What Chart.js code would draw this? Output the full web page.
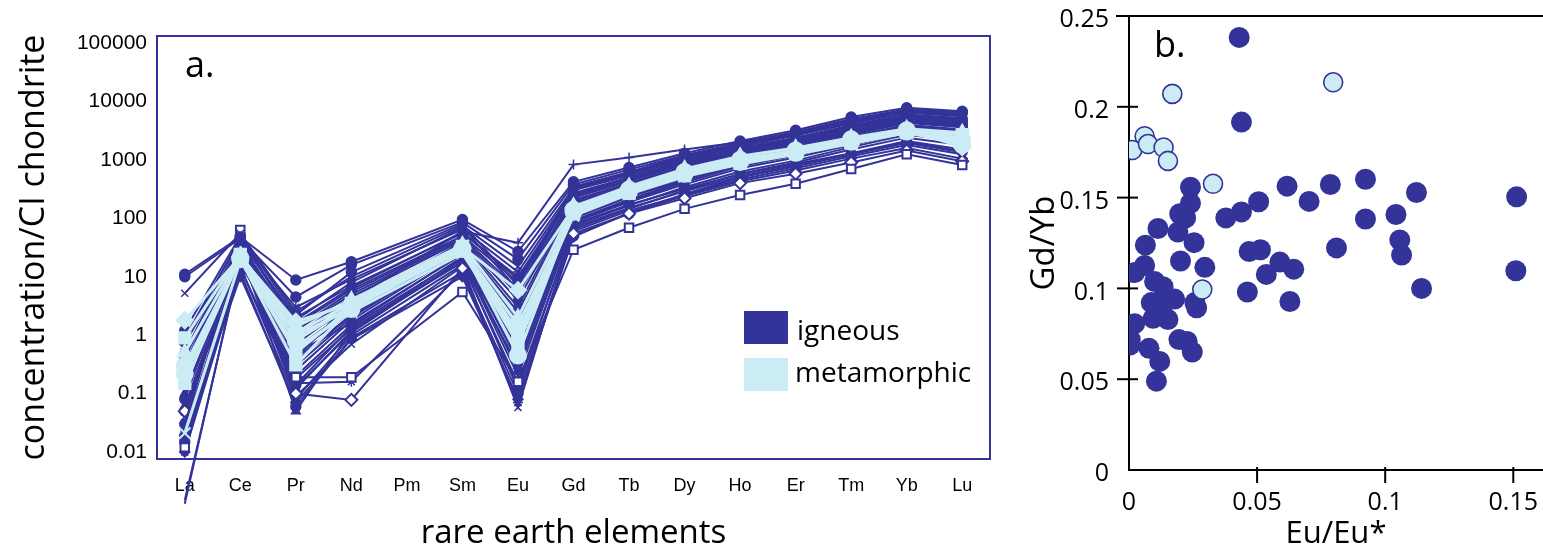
<!DOCTYPE html>
<html>
<head>
<meta charset="utf-8">
<script src="https://cdn.jsdelivr.net/npm/chart.js@4.4.0/dist/chart.umd.min.js"></script>
<style>
  body { margin: 0; background: #fff; }
  #wrap { position: relative; width: 1543px; height: 553px; }
  #ree { position: absolute; left: 0; top: 0; }
  #ratio { position: absolute; left: 1000px; top: 0; }
</style>
</head>
<body>
<div id="wrap">
  <canvas id="ree" width="1000" height="553"></canvas>
  <canvas id="ratio" width="543" height="553"></canvas>
</div>
<script>
// panel a: chondrite normalised REE patterns
const elements = ['La', 'Ce', 'Pr', 'Nd', 'Pm', 'Sm', 'Eu', 'Gd', 'Tb', 'Dy', 'Ho', 'Er', 'Tm', 'Yb', 'Lu'];
const reeTicks = [0.01, 0.1, 1, 10, 100, 1000, 10000, 100000];

// one row per igneous sample, Pm not measured
const igneousSamples = [
  [11, 48, 8.8, 18, null, 95, 27, 420, 740, 1300, 2100, 3200, 5400, 7800, 6800],
  [10, 45, 4.5, 16, null, 85, 20, 380, 680, 1200, 1950, 3000, 5000, 7300, 6400],
  [5.2, 55, 2.5, 10, null, 75, 15, 330, 600, 1100, 1800, 2800, 4600, 7000, 6000],
  [0.03, 40, 0.4, 4, null, 60, 38, 830, 1100, 1500, 2000, 2900, 4500, 6800, 5800],
  [0.012, 63, 0.19, 0.19, null, 5.5, 0.16, 29, 69, 145, 250, 390, 700, 1250, 820],
  [0.05, 30, 0.1, 0.078, null, 14, 0.8, 55, 120, 220, 400, 580, 900, 1450, 950],
  [0.06, 28, 0.05, 1.2, null, 18, 0.3, 80, 170, 320, 560, 850, 1300, 2100, 1500],
  [0.02, 22, 0.15, 0.16, null, 12, 0.07, 60, 135, 250, 460, 720, 1150, 1800, 1250],
  [0.15, 25, 0.09, 0.7, null, 15, 0.058, 70, 150, 290, 520, 800, 1250, 1950, 1350],
  [0.4, 35, 1.5, 6, null, 50, 8, 250, 480, 900, 1500, 2300, 3600, 5600, 4800],
  [0.012, 32, 0.8, 3, null, 40, 3, 200, 390, 760, 1300, 2000, 3300, 5100, 4400],
  [0.3, 38, 1.2, 5, null, 45, 5, 225, 430, 830, 1400, 2100, 3400, 5300, 4600],
  [0.5, 40, 2, 7, null, 55, 10, 270, 500, 950, 1600, 2400, 3900, 6000, 5200],
  [0.08, 30, 0.5, 2.5, null, 35, 2, 165, 340, 670, 1180, 1800, 2950, 4700, 4000],
  [0.2, 33, 0.7, 3.5, null, 38, 1.5, 185, 370, 720, 1250, 1900, 3100, 4900, 4200],
  [0.04, 28, 0.3, 2, null, 30, 0.9, 145, 310, 620, 1100, 1700, 2750, 4400, 3700],
  [0.1, 26, 0.25, 1.8, null, 28, 0.6, 125, 270, 550, 1000, 1550, 2500, 4000, 3300],
  [0.015, 24, 0.2, 1.5, null, 25, 0.4, 105, 240, 500, 900, 1400, 2300, 3700, 3000],
  [0.025, 22, 0.12, 1.2, null, 22, 0.25, 92, 210, 440, 820, 1250, 2100, 3400, 2700],
  [0.7, 36, 1, 4.5, null, 42, 4, 205, 400, 780, 1350, 2050, 3250, 5100, 4500],
  [0.0013, 20, 0.6, 2.8, null, 32, 1.2, 155, 320, 640, 1150, 1750, 2850, 4600, 3850],
  [0.0015, 18, 0.35, 2.2, null, 26, 0.7, 115, 250, 520, 950, 1450, 2400, 3800, 3150],
  [0.3, 42, 3, 9, null, 65, 12, 300, 540, 1000, 1700, 2600, 4200, 6400, 5600],
  [1.2, 50, 2.2, 12, null, 80, 7, 350, 620, 1150, 1900, 2900, 4800, 7200, 6500],
  [0.9, 45, 1.8, 8, null, 70, 6, 315, 580, 1050, 1750, 2700, 4400, 6700, 6200],
  [0.06, 15, 0.08, 1, null, 16, 0.15, 65, 145, 300, 580, 900, 1500, 2400, 1800],
  [0.03, 12, 0.06, 0.9, null, 12, 0.1, 50, 120, 260, 500, 780, 1250, 2000, 1400],
  [0.02, 10, 0.07, 0.85, null, 10, 0.08, 48, 125, 240, 430, 660, 1050, 1600, 1050],
  [0.01, 14, 0.13, 1.1, null, 20, 0.2, 85, 190, 380, 720, 1100, 1800, 2900, 2200],
  [0.013, 16, 0.5, 1.6, null, 24, 0.35, 100, 230, 460, 860, 1350, 2200, 3500, 2800],
  [0.25, 34, 0.9, 4, null, 36, 2.5, 175, 355, 700, 1220, 1850, 3000, 4800, 4100],
  [0.8, 44, 1.6, 6.5, null, 58, 9, 260, 490, 930, 1550, 2350, 3800, 5800, 5000],
  [0.05, 27, 0.4, 2.2, null, 33, 1.8, 135, 290, 580, 1050, 1650, 2650, 4300, 3600],
  [0.5, 37, 1.3, 5.5, null, 48, 6, 235, 450, 860, 1480, 2200, 3550, 5500, 4900],
  [0.01, 20, 0.18, 1.3, null, 18, 0.12, 75, 165, 340, 630, 970, 1650, 2700, 2100],
  [0.018, 26, 0.14, 1.4, null, 21, 0.5, 88, 200, 410, 780, 1200, 1950, 3200, 2500]
];
const igneousMarkers = ['circle', 'circle', 'crossRot', 'cross', 'rect', 'rectRot', 'triangle', 'star', 'crossRot',
  'circle', 'rect', 'triangle', 'rectRot', 'circle', 'rect', 'crossRot', 'triangle', 'circle', 'rect', 'rectRot',
  'circle', 'cross', 'star', 'circle', 'rect', 'triangle', 'circle', 'rectRot', 'crossRot', 'rect', 'circle',
  'triangle', 'circle', 'rect', 'rectRot', 'circle'];
const igneousOpen = [4, 5];   // hollow symbols

const metamorphicSamples = [
  [1.8, 22, 1.7, 3.5, null, 32, 5.9, 150, 330, 650, 1050, 1400, 2300, 3300, 1650],
  [0.9, 24, 1.1, 3.5, null, 33, 1.1, 135, 300, 600, 950, 1350, 2100, 3100, 2700],
  [0.25, 20, 0.31, 3, null, 28, 1.0, 125, 280, 560, 900, 1300, 2000, 3000, 2400],
  [0.22, 21, 1.0, 2.8, null, 30, 0.45, 140, 310, 620, 1000, 1450, 2250, 3200, 2100],
  [0.021, 19, 0.6, 2.5, null, 25, 0.9, 110, 260, 520, 850, 1250, 1900, 2900, 1900],
  [0.5, 23, 1.4, 4, null, 35, 2, 160, 350, 700, 1150, 1600, 2400, 3400, 2900],
  [0.3, 20, 0.8, 3.2, null, 30, 1.5, 130, 290, 580, 920, 1320, 2050, 3050, 1800],
  [0.15, 21, 0.5, 3, null, 29, 0.7, 120, 270, 540, 880, 1280, 1950, 2950, 2200]
];
const metamorphicMarkers = ['rectRot', 'rect', 'rect', 'circle', 'crossRot', 'triangle', 'circle', 'rect'];

// panel b: Gd/Yb against Eu/Eu*
const igneousEu = [0.043, 0.0439, 0.024, 0.024, 0.0198, 0.0221, 0.0113, 0.0191, 0.0254, 0.0064, 0.0201, 0.0296,
  0.0061, 0.0022, 0.0100, 0.0133, 0.0087, 0.0178, 0.0133, 0.0257, 0.0264, 0.0094, 0.0152, 0.0022, 0.0005, 0.0005,
  0.0005, 0.0195, 0.0227, 0.0247, 0.0078, 0.012, 0.0107, 0.0378, 0.0439, 0.0506, 0.0617, 0.0703, 0.0786, 0.0923,
  0.1122, 0.1513, 0.1042, 0.0923, 0.1057, 0.1064, 0.081, 0.0469, 0.0513, 0.0589, 0.0643, 0.0536, 0.0462, 0.0628,
  0.1142, 0.151];
const igneousGdYb = [0.2382, 0.1916, 0.1557, 0.1469, 0.1411, 0.1388, 0.133, 0.131, 0.1252, 0.1238, 0.1151, 0.1116,
  0.1126, 0.1087, 0.1038, 0.1009, 0.0922, 0.0941, 0.0912, 0.0922, 0.0893, 0.0835, 0.0829, 0.0806, 0.0786, 0.0718,
  0.0689, 0.0718, 0.0708, 0.065, 0.067, 0.0598, 0.0489, 0.1388, 0.1421, 0.1477, 0.1563, 0.1479, 0.1572, 0.1601,
  0.1528, 0.1504, 0.1407, 0.1382, 0.1267, 0.1184, 0.1223, 0.1203, 0.1213, 0.1145, 0.1106, 0.1077, 0.098, 0.0928,
  0.1, 0.1097];
const metamorphicEu = [0.0797, 0.0169, 0.0061, 0.0013, 0.0074, 0.0135, 0.0152, 0.0328, 0.0286];
const metamorphicGdYb = [0.2135, 0.2071, 0.1838, 0.1762, 0.1795, 0.1776, 0.1702, 0.1576, 0.0994];
const ratioYTicks = [0, 0.05, 0.1, 0.15, 0.2, 0.25];
const ratioXTicks = [0, 0.05, 0.1, 0.15];

const navy = '#333399';
const pale = '#cbecf4';
const myriad = '"Open Sans", "Noto Sans", sans-serif';
const arial = '"Liberation Sans", Arial, sans-serif';

// ticks sit a few pixels inside the frame (about 7px of a 58px decade)
const logPad = Math.pow(10, 7 / 58.4);

// ---------- panel a ----------
const reeSets = [];
metamorphicSamples.forEach((vals, i) => {
  reeSets.push({
    label: 'metamorphic', data: vals, order: 0, spanGaps: true, clip: false,
    borderColor: pale, borderWidth: 3,
    pointStyle: metamorphicMarkers[i], pointRadius: 8,
    pointBackgroundColor: pale, pointBorderColor: pale, pointBorderWidth: 2
  });
});
igneousSamples.forEach((vals, i) => {
  const hollow = igneousOpen.includes(i);
  reeSets.push({
    label: 'igneous', data: vals, order: 1, spanGaps: true, clip: false,
    borderColor: navy, borderWidth: 2,
    pointStyle: igneousMarkers[i],
    pointRadius: c => (c.raw !== null && c.raw < 0.01 ? 0 : (hollow ? 6 : 5)),
    pointBackgroundColor: hollow ? '#fff' : navy, pointBorderColor: navy,
    pointBorderWidth: hollow ? 2 : 1.5
  });
});

const reeDecor = {
  id: 'reeDecor',
  afterDraw(chart) {
    const { ctx, chartArea: a } = chart;
    ctx.save();
    ctx.strokeStyle = navy;
    ctx.lineWidth = 2;
    ctx.strokeRect(a.left, a.top, a.right - a.left, a.bottom - a.top);
    ctx.fillStyle = '#000';
    ctx.font = '36px ' + myriad;
    ctx.textBaseline = 'alphabetic';
    ctx.fillText('a.', 185, 77);
    // legend
    ctx.fillStyle = navy;
    ctx.fillRect(744, 311, 44, 33);
    ctx.fillStyle = pale;
    ctx.fillRect(744, 358, 44, 33);
    ctx.fillStyle = '#000';
    ctx.font = '28px ' + myriad;
    ctx.fillText('igneous', 797, 340);
    ctx.fillText('metamorphic', 795, 382);
    ctx.restore();
  }
};

new Chart(document.getElementById('ree'), {
  type: 'line',
  data: { labels: elements, datasets: reeSets },
  options: {
    responsive: false, animation: false, devicePixelRatio: 1,
    layout: { autoPadding: false, padding: { top: 36, right: 10, left: 0, bottom: 0 } },
    plugins: { legend: { display: false }, tooltip: { enabled: false } },
    elements: { line: { tension: 0 } },
    scales: {
      x: {
        type: 'category', offset: true,
        grid: { display: false, drawTicks: false }, border: { display: false },
        ticks: { color: '#000', font: { family: arial, size: 18 }, padding: 16, autoSkip: false, maxRotation: 0 },
        title: { display: true, text: 'rare earth elements', color: '#000', font: { family: myriad, size: 33 }, padding: { top: 0, bottom: 0 } },
        afterFit: s => { s.height = 94; s.paddingLeft = 0; s.paddingRight = 0; }
      },
      y: {
        type: 'logarithmic', min: 0.01 / logPad, max: 100000 * logPad,
        grid: { display: false, drawTicks: false }, border: { display: false },
        afterBuildTicks: s => { s.ticks = reeTicks.map(v => ({ value: v })); },
        ticks: {
          color: '#000', font: { family: arial, size: 21, lineHeight: 1.2 }, padding: 10,
          major: { enabled: false }, autoSkip: false, callback: v => String(v)
        },
        title: { display: true, text: 'concentration/CI chondrite', color: '#000', font: { family: myriad, size: 34 }, padding: { top: 14, bottom: 0 } },
        afterFit: s => { s.width = 157; s.paddingTop = 0; s.paddingBottom = 0; }
      }
    }
  },
  plugins: [reeDecor]
});

// ---------- panel b ----------
const ratioDecor = {
  id: 'ratioDecor',
  afterDraw(chart) {
    const { ctx, chartArea: a, scales } = chart;
    ctx.save();
    ctx.strokeStyle = '#000';
    ctx.lineWidth = 2;
    ctx.beginPath();
    ctx.moveTo(116, a.top);
    ctx.lineTo(a.right, a.top);
    ctx.stroke();
    ratioYTicks.slice(1).forEach(v => {
      const y = scales.y.getPixelForValue(v);
      ctx.beginPath();
      ctx.moveTo(a.left - 12, y);
      ctx.lineTo(a.left + 9, y);
      ctx.stroke();
    });
    ratioXTicks.slice(1).forEach(v => {
      const x = scales.x.getPixelForValue(v);
      ctx.beginPath();
      ctx.moveTo(x, a.bottom - 3);
      ctx.lineTo(x, a.bottom + 13);
      ctx.stroke();
    });
    ctx.fillStyle = '#000';
    ctx.font = '36px ' + myriad;
    ctx.fillText('b.', 154, 57);
    ctx.restore();
  }
};

new Chart(document.getElementById('ratio'), {
  type: 'scatter',
  data: {
    datasets: [
      {
        label: 'metamorphic', order: 0,
        data: metamorphicEu.map((x, i) => ({ x: x, y: metamorphicGdYb[i] })),
        pointRadius: 9.5, pointBackgroundColor: pale, pointBorderColor: navy, pointBorderWidth: 1.6
      },
      {
        label: 'igneous', order: 1,
        data: igneousEu.map((x, i) => ({ x: x, y: igneousGdYb[i] })),
        pointRadius: 10.5, pointBackgroundColor: navy, pointBorderColor: navy, pointBorderWidth: 0
      }
    ]
  },
  options: {
    responsive: false, animation: false, devicePixelRatio: 1,
    layout: { autoPadding: false, padding: { top: 16, right: 0, left: 0, bottom: 0 } },
    plugins: { legend: { display: false }, tooltip: { enabled: false } },
    scales: {
      x: {
        type: 'linear', min: 0, max: 0.1616,
        grid: { display: false, drawTicks: false },
        border: { display: true, color: '#000', width: 2 },
        afterBuildTicks: s => { s.ticks = ratioXTicks.map(v => ({ value: v })); },
        ticks: { color: '#000', font: { family: myriad, size: 25 }, padding: 18, maxRotation: 0, callback: v => String(v) },
        title: { display: true, text: 'Eu/Eu*', color: '#000', font: { family: myriad, size: 31 }, padding: { top: 0, bottom: 0 } },
        afterFit: s => { s.height = 83; s.paddingLeft = 0; s.paddingRight = 0; }
      },
      y: {
        type: 'linear', min: 0, max: 0.25,
        grid: { display: false, drawTicks: false },
        border: { display: true, color: '#000', width: 2 },
        afterBuildTicks: s => { s.ticks = ratioYTicks.map(v => ({ value: v })); },
        ticks: { color: '#000', font: { family: myriad, size: 25 }, padding: 20, labelOffset: 4, callback: v => String(v) },
        title: { display: true, text: 'Gd/Yb', color: '#000', font: { family: myriad, size: 33 }, padding: { top: 25, bottom: 0 } },
        afterFit: s => { s.width = 129; s.paddingTop = 0; s.paddingBottom = 0; }
      }
    }
  },
  plugins: [ratioDecor]
});
</script>
</body>
</html>
